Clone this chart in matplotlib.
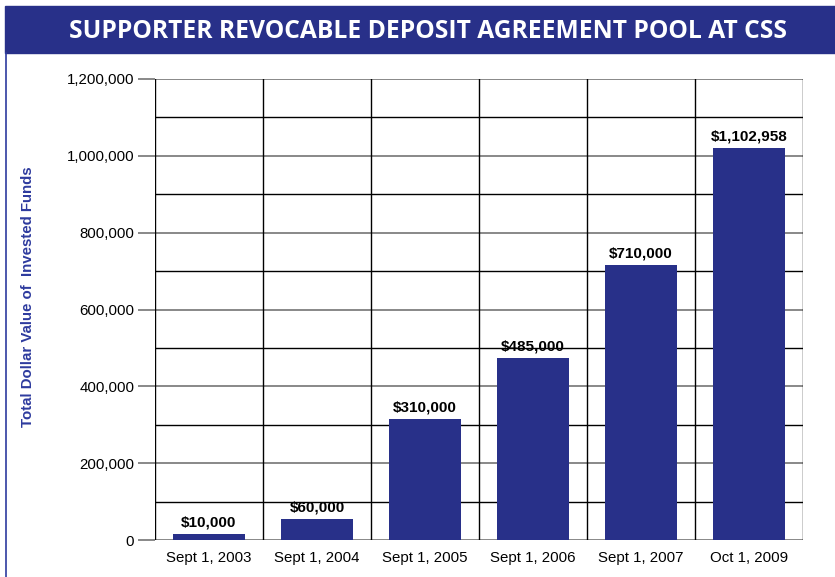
import numpy as np
import matplotlib
matplotlib.use("Agg")
import matplotlib.pyplot as plt
from matplotlib.patches import Rectangle

# data
dates = ["Sept 1, 2003", "Sept 1, 2004", "Sept 1, 2005",
         "Sept 1, 2006", "Sept 1, 2007", "Oct 1, 2009"]
heights = [15000, 55000, 315000, 474000, 716000, 1020000]
value_labels = ["$10,000", "$60,000", "$310,000",
                "$485,000", "$710,000", "$1,102,958"]
yticks = [0, 200000, 400000, 600000, 800000, 1000000, 1200000]

navy = "#283089"
label_blue = "#2E3B9E"

plt.rcParams['font.family'] = ['Liberation Sans', 'DejaVu Sans']

fig = plt.figure(figsize=(8.35, 5.77), dpi=100)

# title banner and left border
fig.patches.append(Rectangle((5/835, 1 - 53/577), 1, 47/577,
                             transform=fig.transFigure, color=navy, zorder=0))
fig.add_artist(plt.Line2D([6/835, 6/835], [0, 1 - 53/577],
                          transform=fig.transFigure, color=label_blue, lw=1.2))
fig.text(0.512, 1 - 31/577, "SUPPORTER REVOCABLE DEPOSIT AGREEMENT POOL AT CSS",
         color="white", fontsize=17.7, fontweight="bold", family="Open Sans",
         ha="center", va="center")

ax = fig.add_axes([155/835, 37/577, 648/835, 461/577])
x = np.arange(len(dates))
ax.set_xlim(-0.5, len(dates) - 0.5)
ax.set_ylim(0, 1200000)

# grid lines
for v in range(100000, 1200000, 200000):
    ax.axhline(v, color="black", lw=1, zorder=1)
for v in yticks:
    ax.axhline(v, color="#7f7f7f", lw=1.3, zorder=1)
for b in np.arange(-0.5, len(dates), 1):
    ax.axvline(b, color="black", lw=1, zorder=1)

ax.bar(x, heights, width=0.667, color=navy, zorder=2)
for xi, h, lab in zip(x, heights, value_labels):
    ax.text(xi, h + 12000, lab, ha="center", va="bottom",
            fontsize=11, fontweight="bold", color="black")

for s in ax.spines.values():
    s.set_visible(False)

ax.set_yticks(yticks)
ax.set_yticklabels([f"{v:,}" for v in yticks], fontsize=10.8)
ax.tick_params(axis="y", length=12, width=1.3, color="#7f7f7f", pad=3)
ax.set_xticks(x)
ax.set_xticklabels(dates, fontsize=10.8)
ax.tick_params(axis="x", length=0, pad=8)

fig.text(28/835, 1 - 297/577, "Total Dollar Value of  Invested Funds",
         rotation=90, color=label_blue, fontsize=10.8, fontweight="bold",
         ha="center", va="center")

fig.savefig("out.png", dpi=100)
